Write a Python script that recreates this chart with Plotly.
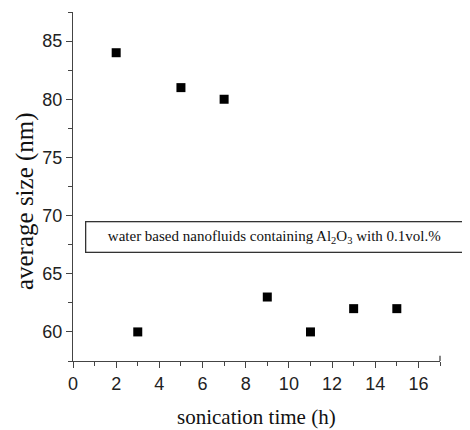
import plotly.graph_objects as go

sonication_time = [2, 3, 5, 7, 9, 11, 13, 15]
average_size = [84, 60, 81, 80, 63, 60, 62, 62]

x_ticks = [0, 2, 4, 6, 8, 10, 12, 14, 16]
y_ticks = [60, 65, 70, 75, 80, 85]

x_title = "sonication time (h)"
y_title = "average size (nm)"
box_text = "water based nanofluids containing Al<sub>2</sub>O<sub>3</sub> with 0.1vol.%"

axis_col = "#444444"
serif = "Liberation Serif"

fig = go.Figure()
fig.add_trace(go.Scatter(
    x=sonication_time, y=average_size, mode="markers",
    marker=dict(symbol="square", size=9, color="black"),
    showlegend=False,
))

fig.update_layout(
    template="none",
    width=462, height=422,
    margin=dict(l=65, r=30, t=4, b=69, autoexpand=False),
    paper_bgcolor="white", plot_bgcolor="white",
    font=dict(family="Liberation Sans", color="#222222"),
)
fig.update_xaxes(
    range=[0, 17], tickvals=x_ticks, showgrid=False, zeroline=False,
    showline=True, linecolor=axis_col, linewidth=1.3,
    ticks="outside", ticklen=6, tickwidth=1.3, tickcolor=axis_col,
    minor=dict(dtick=1, tick0=0, ticks="outside", ticklen=4, tickwidth=1.3, tickcolor=axis_col),
    tickfont=dict(size=18, family="Liberation Sans"),
)
fig.update_yaxes(
    range=[57.5, 87.5], tickvals=y_ticks, showgrid=False, zeroline=False,
    showline=True, linecolor=axis_col, linewidth=1.3,
    ticks="outside", ticklen=6, tickwidth=1.3, tickcolor=axis_col,
    minor=dict(dtick=2.5, tick0=57.5, ticks="outside", ticklen=4, tickwidth=1.3, tickcolor=axis_col),
    tickfont=dict(size=18, family="Liberation Sans"),
)

# axis titles as serif annotations
fig.add_annotation(
    text=x_title, xref="paper", yref="paper", x=0.5, y=-0.160,
    xanchor="center", yanchor="middle", showarrow=False,
    font=dict(family=serif, size=21, color="#111111"),
)
fig.add_annotation(
    text=y_title, xref="paper", yref="paper", x=-0.131, y=0.458,
    xanchor="center", yanchor="middle", showarrow=False, textangle=-90,
    font=dict(family=serif, size=25, color="#111111"),
)

fig.add_annotation(
    text=box_text, xref="paper", yref="y",
    x=0.549, y=68.18, xanchor="center", yanchor="middle",
    showarrow=False, width=376, height=29,
    bordercolor="#333333", borderwidth=1.3, borderpad=0, bgcolor="white",
    font=dict(family=serif, size=15, color="#111111"),
)

# axis end cap (Origin-style)
fig.add_shape(type="line", xref="paper", yref="paper", x0=1, x1=1, y0=0, y1=0.015,
              line=dict(color=axis_col, width=1.3))

fig.write_html("out.html")
